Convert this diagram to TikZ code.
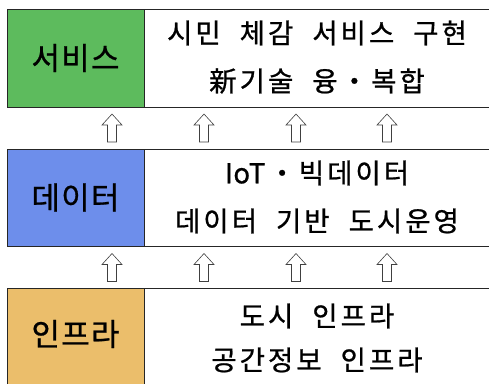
\documentclass[tikz,border=0pt]{standalone}
\usepackage{fontspec}
\newfontfamily\krlab[LetterSpace=4,FakeBold=0.8]{Noto Sans CJK KR}
\newfontfamily\kr[LetterSpace=11,FakeBold=0.8]{Noto Sans CJK KR}
\newfontfamily\krlat[LetterSpace=2,FakeBold=0.8]{Noto Sans CJK KR}
\newcommand{\wg}{\hspace{19pt}}
\definecolor{cgreen}{RGB}{93,187,93}
\definecolor{cblue}{RGB}{109,142,235}
\definecolor{cgold}{RGB}{235,190,107}
\begin{document}
\begin{tikzpicture}[x=1pt,y=-1pt,
  lab/.style={inner sep=0pt,font=\krlab\fontsize{31}{34}\selectfont},
  box/.style={draw=black!85,line width=0.8pt},
  body/.style={draw=black!85,line width=0.8pt,fill=white},
  txt/.style={inner sep=0pt,font=\kr\fontsize{27.5}{30}\selectfont,anchor=center},
  uparr/.pic={\draw[black!75,line width=0.6pt,fill=white] (0,-14) -- (10,-3) -- (4.5,-3) -- (4.5,14) -- (-4.5,14) -- (-4.5,-3) -- (-10,-3) -- cycle;}]
\useasboundingbox (0,0) rectangle (489,383);
% row 1
\draw[body] (144,9) rectangle (492,107);
\draw[box,fill=cgreen] (7,9) rectangle (144,107);
\node[lab] (svc) at (75.5,58) {서비스};
\node[txt] (s1) at (317,33) {시민\wg 체감\wg 서비스\wg 구현};
\node[txt] (s2) at (317,81) {新기술\wg 융・복합};
% row 2
\draw[body] (144,149) rectangle (492,246);
\draw[box,fill=cblue] (7,149) rectangle (144,246);
\node[lab] (dat) at (75.5,197.5) {데이터};
\node[txt] (d1) at (317,173) {{\krlat IoT}\hspace{3pt}・빅데이터};
\node[txt] (d2) at (317,221) {데이터\wg 기반\wg 도시운영};
% row 3
\draw[body] (144,288) rectangle (492,395);
\draw[box,fill=cgold] (7,288) rectangle (144,395);
\node[lab] (inf) at (75.5,334) {인프라};
\node[txt] (i1) at (317,316) {도시\wg 인프라};
\node[txt] (i2) at (317,360) {공간정보\wg 인프라};
% arrows
\foreach \x in {112,204,296,387}{
  \pic at (\x,128) {uparr};
  \pic at (\x,267.5) {uparr};
}
\end{tikzpicture}
\end{document}
